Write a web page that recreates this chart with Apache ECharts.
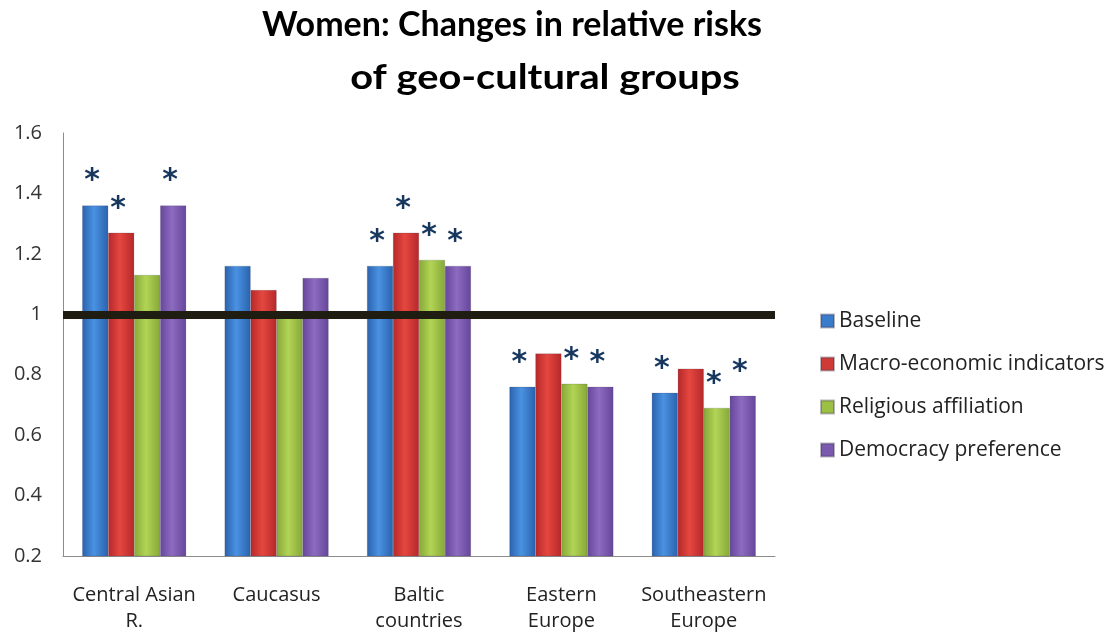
<!DOCTYPE html>
<html>
<head>
<meta charset="utf-8">
<script src="https://cdn.jsdelivr.net/npm/echarts@6/dist/echarts.min.js"></script>
<style>
  html, body { margin: 0; padding: 0; background: #ffffff; }
  #chart { width: 1107px; height: 635px; }
</style>
</head>
<body>
<div id="chart"></div>
<script>
// Geo-cultural groups on the x axis
const categories = ['Central Asian\nR.', 'Caucasus', 'Baltic\ncountries', 'Eastern\nEurope', 'Southeastern\nEurope'];

// Relative risks per model
const baseline   = [1.36, 1.16, 1.16, 0.76, 0.74];
const macroEcon  = [1.27, 1.08, 1.27, 0.87, 0.82];
const religious  = [1.13, 1.01, 1.18, 0.77, 0.69];
const democracy  = [1.36, 1.12, 1.16, 0.76, 0.73];

// Significance flags (1 = marked with an asterisk)
const sigBaseline  = [1, 0, 1, 1, 1];
const sigMacro     = [1, 0, 1, 0, 0];
const sigReligious = [0, 0, 1, 1, 1];
const sigDemocracy = [1, 0, 1, 1, 1];

const yTicks = [0.2, 0.4, 0.6, 0.8, 1, 1.2, 1.4, 1.6];

const titleLines = ['Women: Changes in relative risks', 'of geo-cultural groups'];

// Horizontal gradient gives the bars a rounded, cylinder-like shading
function cyl(edge, mid) {
  return {
    type: 'linear', x: 0, y: 0, x2: 1, y2: 0,
    colorStops: [
      { offset: 0, color: edge },
      { offset: 0.45, color: mid },
      { offset: 1, color: edge }
    ]
  };
}

const seriesDefs = [
  { name: 'Baseline', data: baseline, sig: sigBaseline, color: cyl('#2a62ad', '#4a92e2'), legend: '#3a7ccc' },
  { name: 'Macro-economic indicators', data: macroEcon, sig: sigMacro, color: cyl('#b5282a', '#e5473f'), legend: '#cf3a36' },
  { name: 'Religious affiliation', data: religious, sig: sigReligious, color: cyl('#86a838', '#b2d455'), legend: '#9cc044' },
  { name: 'Democracy preference', data: democracy, sig: sigDemocracy, color: cyl('#65469a', '#8d6cc0'), legend: '#7a5aae' }
];

const series = seriesDefs.map((s, si) => ({
  name: s.name,
  type: 'bar',
  barGap: '0%',
  barCategoryGap: '27%',
  data: s.data,
  itemStyle: { color: s.color, borderColor: 'rgba(60,50,70,0.35)', borderWidth: 0.5 },
  label: {
    show: true,
    position: 'top',
    distance: 9,
    offset: [-3, 0],
    formatter: p => s.sig[p.dataIndex] ? '*' : '',
    fontSize: 30,
    fontWeight: 'bold',
    fontFamily: 'DejaVu Sans',
    color: '#17375e'
  },
  markLine: si === 0 ? {
    silent: true,
    symbol: 'none',
    label: { show: false },
    lineStyle: { color: '#1f1c12', width: 8, type: 'solid' },
    data: [{ yAxis: 1 }]
  } : undefined,
  z: 2
}));

const chart = echarts.init(document.getElementById('chart'), null, { renderer: 'canvas' });
chart.setOption({
  animation: false,
  backgroundColor: '#ffffff',
  graphic: [
    {
      type: 'text',
      x: 512, y: 25,
      style: {
        text: titleLines[0],
        font: 'bold 34px Lato',
        fill: '#000000',
        align: 'center',
        verticalAlign: 'middle'
      }
    },
    {
      type: 'text',
      x: 545, y: 78,
      scaleX: 1.17,
      style: {
        text: titleLines[1],
        font: 'bold 34px Lato',
        fill: '#000000',
        align: 'center',
        verticalAlign: 'middle'
      }
    }
  ],
  legend: {
    orient: 'vertical',
    left: 815,
    top: 305,
    itemGap: 21,
    itemWidth: 13,
    itemHeight: 13,
    icon: 'rect',
    data: seriesDefs.map(s => ({ name: s.name, itemStyle: { color: s.legend } })),
    textStyle: { fontFamily: 'Open Sans', fontSize: 21, lineHeight: 22, color: '#222222' }
  },
  grid: { left: 63, right: 332, top: 133, bottom: 79, containLabel: false },
  xAxis: {
    type: 'category',
    data: categories,
    axisLine: { lineStyle: { color: '#8c8c8c', width: 1 } },
    axisTick: { show: false },
    axisLabel: {
      interval: 0,
      hideOverlap: false,
      fontFamily: 'Open Sans',
      fontSize: 20,
      color: '#222222',
      lineHeight: 26,
      margin: 26
    }
  },
  yAxis: {
    type: 'value',
    min: 0.2,
    max: 1.6,
    interval: 0.2,
    axisLine: { show: true, lineStyle: { color: '#8c8c8c', width: 1 } },
    axisTick: { show: false },
    splitLine: { show: false },
    axisLabel: {
      fontFamily: 'Open Sans',
      fontSize: 20,
      color: '#333333',
      margin: 21,
      formatter: v => {
        const t = yTicks.find(x => Math.abs(x - v) < 1e-6);
        return t === undefined ? '' : String(t);
      }
    }
  },
  series: series
});
</script>
</body>
</html>
